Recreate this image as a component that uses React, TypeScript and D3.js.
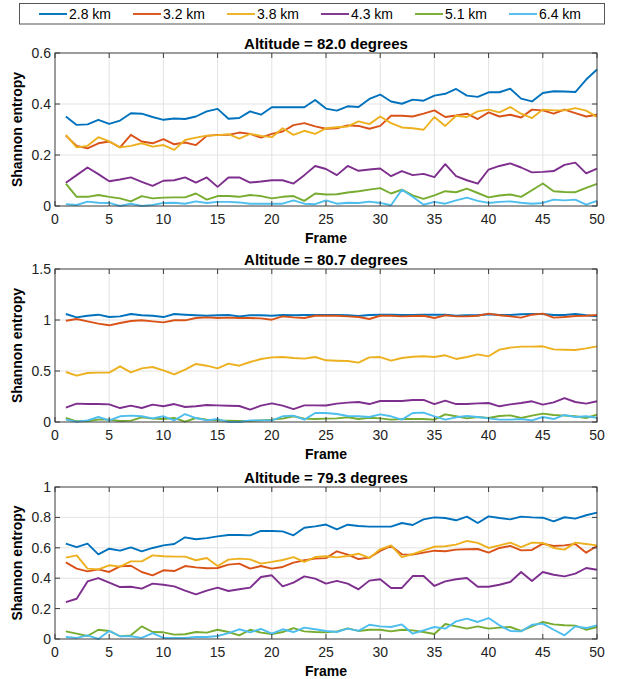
import React from 'react'
import * as d3 from 'd3'

// frames 1..50
const frames = d3.range(1, 51)

const seriesNames = ['2.8 km', '3.2 km', '3.8 km', '4.3 km', '5.1 km', '6.4 km']
const seriesColors = ['#0072BD', '#D95319', '#EDB120', '#7E2F8E', '#77AC30', '#4DBEEE']

const xTicks = [0, 5, 10, 15, 20, 25, 30, 35, 40, 45, 50]

// Altitude = 82.0 degrees
const blue82 = [0.351,0.318,0.32,0.338,0.322,0.335,0.364,0.362,0.349,0.338,0.343,0.341,0.351,0.371,0.381,0.342,0.345,0.371,0.358,0.387,0.387,0.387,0.387,0.416,0.382,0.374,0.391,0.388,0.42,0.437,0.41,0.401,0.417,0.413,0.433,0.44,0.459,0.433,0.428,0.446,0.446,0.46,0.421,0.41,0.443,0.45,0.449,0.447,0.496,0.535]
const red82 = [0.276,0.236,0.226,0.246,0.253,0.23,0.279,0.253,0.246,0.262,0.242,0.249,0.239,0.275,0.279,0.279,0.288,0.283,0.268,0.283,0.292,0.317,0.325,0.312,0.303,0.305,0.316,0.314,0.303,0.314,0.354,0.354,0.351,0.362,0.375,0.349,0.355,0.362,0.341,0.367,0.351,0.358,0.347,0.378,0.375,0.362,0.378,0.364,0.351,0.358]
const yellow82 = [0.279,0.23,0.236,0.27,0.253,0.23,0.236,0.246,0.233,0.239,0.22,0.259,0.268,0.276,0.278,0.282,0.264,0.283,0.275,0.27,0.305,0.279,0.295,0.283,0.305,0.309,0.312,0.332,0.321,0.351,0.325,0.308,0.305,0.299,0.349,0.314,0.354,0.349,0.371,0.378,0.367,0.388,0.362,0.345,0.378,0.375,0.375,0.384,0.374,0.349]
const purple82 = [0.091,0.121,0.151,0.125,0.097,0.104,0.112,0.095,0.079,0.099,0.101,0.112,0.092,0.112,0.075,0.112,0.112,0.092,0.096,0.101,0.101,0.088,0.121,0.157,0.145,0.121,0.157,0.138,0.143,0.147,0.117,0.137,0.121,0.126,0.113,0.164,0.117,0.101,0.088,0.143,0.157,0.167,0.151,0.132,0.134,0.137,0.161,0.17,0.128,0.147]
const green82 = [0.088,0.036,0.036,0.043,0.036,0.03,0.018,0.039,0.03,0.033,0.034,0.034,0.049,0.025,0.039,0.039,0.036,0.043,0.039,0.03,0.036,0.039,0.02,0.049,0.045,0.046,0.053,0.058,0.064,0.07,0.049,0.064,0.042,0.028,0.042,0.058,0.054,0.068,0.051,0.034,0.041,0.045,0.036,0.062,0.088,0.058,0.055,0.054,0.071,0.087]
const cyan82 = [0.007,0.004,0.017,0.013,0.012,0,0.009,0,0.004,0.012,0.013,0.009,0.018,0.012,0.016,0.016,0.014,0.009,0.009,0.009,0.009,0.022,0.009,0.007,0.022,0.009,0.013,0.012,0.017,0.012,0.003,0.064,0.036,0.005,0.016,0.009,0.022,0.033,0.02,0.012,0.016,0.018,0.013,0.009,0.012,0.025,0.022,0.025,0.005,0.02]

// Altitude = 80.7 degrees
const blue807 = [1.059,1.026,1.042,1.052,1.029,1.036,1.059,1.046,1.042,1.029,1.059,1.052,1.046,1.042,1.046,1.049,1.036,1.046,1.046,1.042,1.049,1.046,1.049,1.049,1.049,1.049,1.046,1.039,1.049,1.052,1.052,1.049,1.049,1.052,1.052,1.052,1.042,1.046,1.046,1.056,1.049,1.049,1.056,1.059,1.059,1.049,1.049,1.059,1.046,1.036]
const red807 = [0.993,1.01,0.987,0.964,0.948,0.971,0.99,0.997,0.987,0.977,0.997,0.997,1.02,1.026,1.02,1.023,1.02,1.02,1.016,1.003,1.036,1.026,1.02,1.042,1.042,1.042,1.036,1.029,1.01,1.042,1.042,1.036,1.039,1.042,1.02,1.046,1.036,1.036,1.042,1.062,1.046,1.036,1.023,1.052,1.062,1.023,1.029,1.039,1.042,1.049]
const yellow807 = [0.49,0.454,0.48,0.484,0.484,0.546,0.487,0.526,0.539,0.507,0.467,0.513,0.569,0.552,0.526,0.572,0.552,0.588,0.618,0.634,0.637,0.627,0.621,0.637,0.605,0.601,0.598,0.582,0.634,0.637,0.601,0.627,0.64,0.644,0.637,0.654,0.618,0.637,0.663,0.644,0.709,0.729,0.739,0.739,0.742,0.712,0.709,0.706,0.722,0.742]
const purple807 = [0.141,0.18,0.176,0.176,0.173,0.137,0.16,0.137,0.17,0.154,0.176,0.147,0.154,0.167,0.163,0.16,0.157,0.121,0.16,0.183,0.16,0.127,0.163,0.163,0.162,0.18,0.19,0.196,0.176,0.206,0.206,0.206,0.216,0.216,0.176,0.209,0.176,0.176,0.183,0.186,0.154,0.173,0.186,0.203,0.17,0.193,0.235,0.196,0.18,0.203]
const green807 = [0.039,0.007,0.01,0.023,0.023,0.01,0.013,0.046,0.033,0.029,0.039,0.003,0.039,0.023,0.016,0.013,0.01,0.01,0.016,0.023,0.033,0.056,0.033,0.029,0.033,0.036,0.046,0.029,0.042,0.036,0.023,0.029,0.029,0.029,0.023,0.075,0.056,0.036,0.049,0.039,0.059,0.065,0.039,0.062,0.082,0.069,0.062,0.056,0.039,0.072]
const cyan807 = [0.023,0.003,0.016,0.049,0.016,0.056,0.062,0.056,0.036,0.056,0.016,0.078,0.039,0.016,0.029,0,0,0.016,0.016,0.016,0.056,0.062,0.023,0.088,0.088,0.078,0.059,0.056,0.049,0.075,0.056,0.023,0.088,0.092,0.056,0.023,0.046,0.059,0.049,0.036,0.023,0.023,0.029,0.016,0.049,0.029,0.069,0.049,0.056,0.042]

// Altitude = 79.3 degrees
const blue793 = [0.627,0.605,0.627,0.557,0.594,0.581,0.603,0.577,0.599,0.616,0.625,0.669,0.656,0.664,0.675,0.684,0.684,0.682,0.711,0.711,0.708,0.682,0.732,0.741,0.753,0.721,0.752,0.743,0.739,0.739,0.739,0.763,0.75,0.787,0.8,0.796,0.781,0.805,0.763,0.807,0.796,0.787,0.805,0.8,0.798,0.774,0.801,0.792,0.814,0.831]
const red793 = [0.504,0.463,0.445,0.458,0.441,0.478,0.482,0.441,0.419,0.452,0.447,0.48,0.471,0.465,0.467,0.489,0.496,0.463,0.48,0.463,0.474,0.502,0.518,0.529,0.532,0.577,0.555,0.526,0.535,0.579,0.612,0.557,0.555,0.568,0.581,0.577,0.588,0.59,0.592,0.568,0.599,0.612,0.583,0.586,0.627,0.612,0.616,0.625,0.568,0.612]
const yellow793 = [0.535,0.55,0.463,0.458,0.485,0.476,0.511,0.511,0.55,0.544,0.542,0.542,0.518,0.533,0.48,0.522,0.529,0.524,0.496,0.507,0.52,0.539,0.507,0.539,0.544,0.537,0.546,0.561,0.533,0.59,0.616,0.539,0.559,0.583,0.607,0.61,0.621,0.645,0.632,0.599,0.616,0.634,0.605,0.634,0.632,0.599,0.588,0.634,0.625,0.616]
const purple793 = [0.243,0.265,0.379,0.401,0.371,0.342,0.344,0.331,0.364,0.357,0.346,0.318,0.294,0.318,0.338,0.316,0.327,0.338,0.408,0.419,0.346,0.371,0.412,0.397,0.364,0.382,0.364,0.327,0.384,0.393,0.336,0.336,0.414,0.414,0.349,0.379,0.393,0.401,0.344,0.344,0.357,0.375,0.441,0.382,0.441,0.423,0.412,0.43,0.467,0.456]
const green793 = [0.05,0.035,0.02,0.061,0.053,0.018,0.024,0.083,0.046,0.044,0.029,0.031,0.046,0.042,0.061,0.046,0.024,0.061,0.042,0.033,0.046,0.072,0.05,0.046,0.044,0.05,0.07,0.053,0.061,0.061,0.05,0.061,0.057,0.046,0.033,0.099,0.083,0.068,0.083,0.068,0.075,0.079,0.053,0.083,0.112,0.096,0.09,0.088,0.061,0.079]
const cyan793 = [0.013,0.007,0.024,0,0.053,0.018,0.018,0.007,0.039,0.007,0.007,0.007,0.013,0.013,0.02,0.039,0.064,0.044,0.066,0.035,0.064,0.046,0.075,0.064,0.053,0.046,0.068,0.053,0.094,0.083,0.079,0.096,0.035,0.057,0.079,0.068,0.116,0.134,0.112,0.138,0.09,0.053,0.05,0.094,0.101,0.061,0.024,0.083,0.072,0.09]

const yTicks82 = [0, 0.2, 0.4, 0.6]
const yTicks807 = [0, 0.5, 1, 1.5]
const yTicks793 = [0, 0.2, 0.4, 0.6, 0.8, 1]

const FONT = '"Liberation Sans", Arial, Helvetica, sans-serif'
const W = 619
const H = 679
const left = 55
const right = 597
const axisColor = '#3a3a3a'
const gridColor = '#e3e3e3'
const tickLen = 5

type PanelProps = {
  title: string
  series: number[][]
  yTicks: number[]
  top: number
  bottom: number
}

const Panel = ({ title, series, yTicks, top, bottom }: PanelProps) => {
  const x = d3.scaleLinear().domain([0, 50]).range([left, right])
  const y = d3.scaleLinear().domain([yTicks[0], yTicks[yTicks.length - 1]]).range([bottom, top])

  const line = d3.line<number>()
    .x((_, i) => x(frames[i]))
    .y(d => y(d))

  return (
    <g>
      {/* grid */}
      {xTicks.slice(1, -1).map(t => (
        <line key={'gx' + t} x1={x(t)} x2={x(t)} y1={top} y2={bottom} stroke={gridColor} strokeWidth={1} />
      ))}
      {yTicks.slice(1, -1).map(t => (
        <line key={'gy' + t} x1={left} x2={right} y1={y(t)} y2={y(t)} stroke={gridColor} strokeWidth={1} />
      ))}

      {/* data */}
      <g clipPath={undefined}>
        {series.map((s, i) => (
          <path key={i} d={line(s) || ''} fill="none" stroke={seriesColors[i]} strokeWidth={1.9} strokeLinejoin="round" />
        ))}
      </g>

      {/* box and inward ticks */}
      <rect x={left} y={top} width={right - left} height={bottom - top} fill="none" stroke={axisColor} strokeWidth={1} />
      {xTicks.map(t => (
        <g key={'tx' + t}>
          <line x1={x(t)} x2={x(t)} y1={bottom} y2={bottom - tickLen} stroke={axisColor} />
          <line x1={x(t)} x2={x(t)} y1={top} y2={top + tickLen} stroke={axisColor} />
          <text x={x(t)} y={bottom + 13} textAnchor="middle" dominantBaseline="central" fontSize={14} fill="#222">{t}</text>
        </g>
      ))}
      {yTicks.map(t => (
        <g key={'ty' + t}>
          <line x1={left} x2={left + tickLen} y1={y(t)} y2={y(t)} stroke={axisColor} />
          <line x1={right} x2={right - tickLen} y1={y(t)} y2={y(t)} stroke={axisColor} />
          <text x={left - 4} y={y(t)} textAnchor="end" dominantBaseline="central" fontSize={14} fill="#222">{t}</text>
        </g>
      ))}

      {/* labels */}
      <text x={(left + right) / 2} y={top - 10} textAnchor="middle" dominantBaseline="central" fontSize={15} fontWeight="bold" fill="#000">{title}</text>
      <text x={(left + right) / 2} y={bottom + 32} textAnchor="middle" dominantBaseline="central" fontSize={14} fontWeight="bold" fill="#000">Frame</text>
      <text transform={`translate(17,${(top + bottom) / 2}) rotate(-90)`} textAnchor="middle" dominantBaseline="central" fontSize={14} fontWeight="bold" fill="#000">Shannon entropy</text>
    </g>
  )
}

const Legend = () => {
  const lx = d3.scaleLinear().domain([0, 1]).range([39, 133])
  return (
    <g>
      <rect x={19.5} y={3.5} width={585} height={20.5} fill="#fff" stroke="#555" strokeWidth={1} />
      {seriesNames.map((name, i) => (
        <g key={name}>
          <line x1={lx(i)} x2={lx(i) + 28} y1={14} y2={14} stroke={seriesColors[i]} strokeWidth={1.9} />
          <text x={lx(i) + 30} y={14} dominantBaseline="central" fontSize={14} fill="#000">{name}</text>
        </g>
      ))}
    </g>
  )
}

export default function App() {
  return (
    <svg width={W} height={H} style={{ position: 'absolute', left: 0, top: 0, background: '#fff' }} fontFamily={FONT}>
      <rect width={W} height={H} fill="#fff" />
      <Legend />
      <Panel title="Altitude = 82.0 degrees" series={[blue82, red82, yellow82, purple82, green82, cyan82]} yTicks={yTicks82} top={53} bottom={206} />
      <Panel title="Altitude = 80.7 degrees" series={[blue807, red807, yellow807, purple807, green807, cyan807]} yTicks={yTicks807} top={269} bottom={422} />
      <Panel title="Altitude = 79.3 degrees" series={[blue793, red793, yellow793, purple793, green793, cyan793]} yTicks={yTicks793} top={487} bottom={639} />
    </svg>
  )
}
